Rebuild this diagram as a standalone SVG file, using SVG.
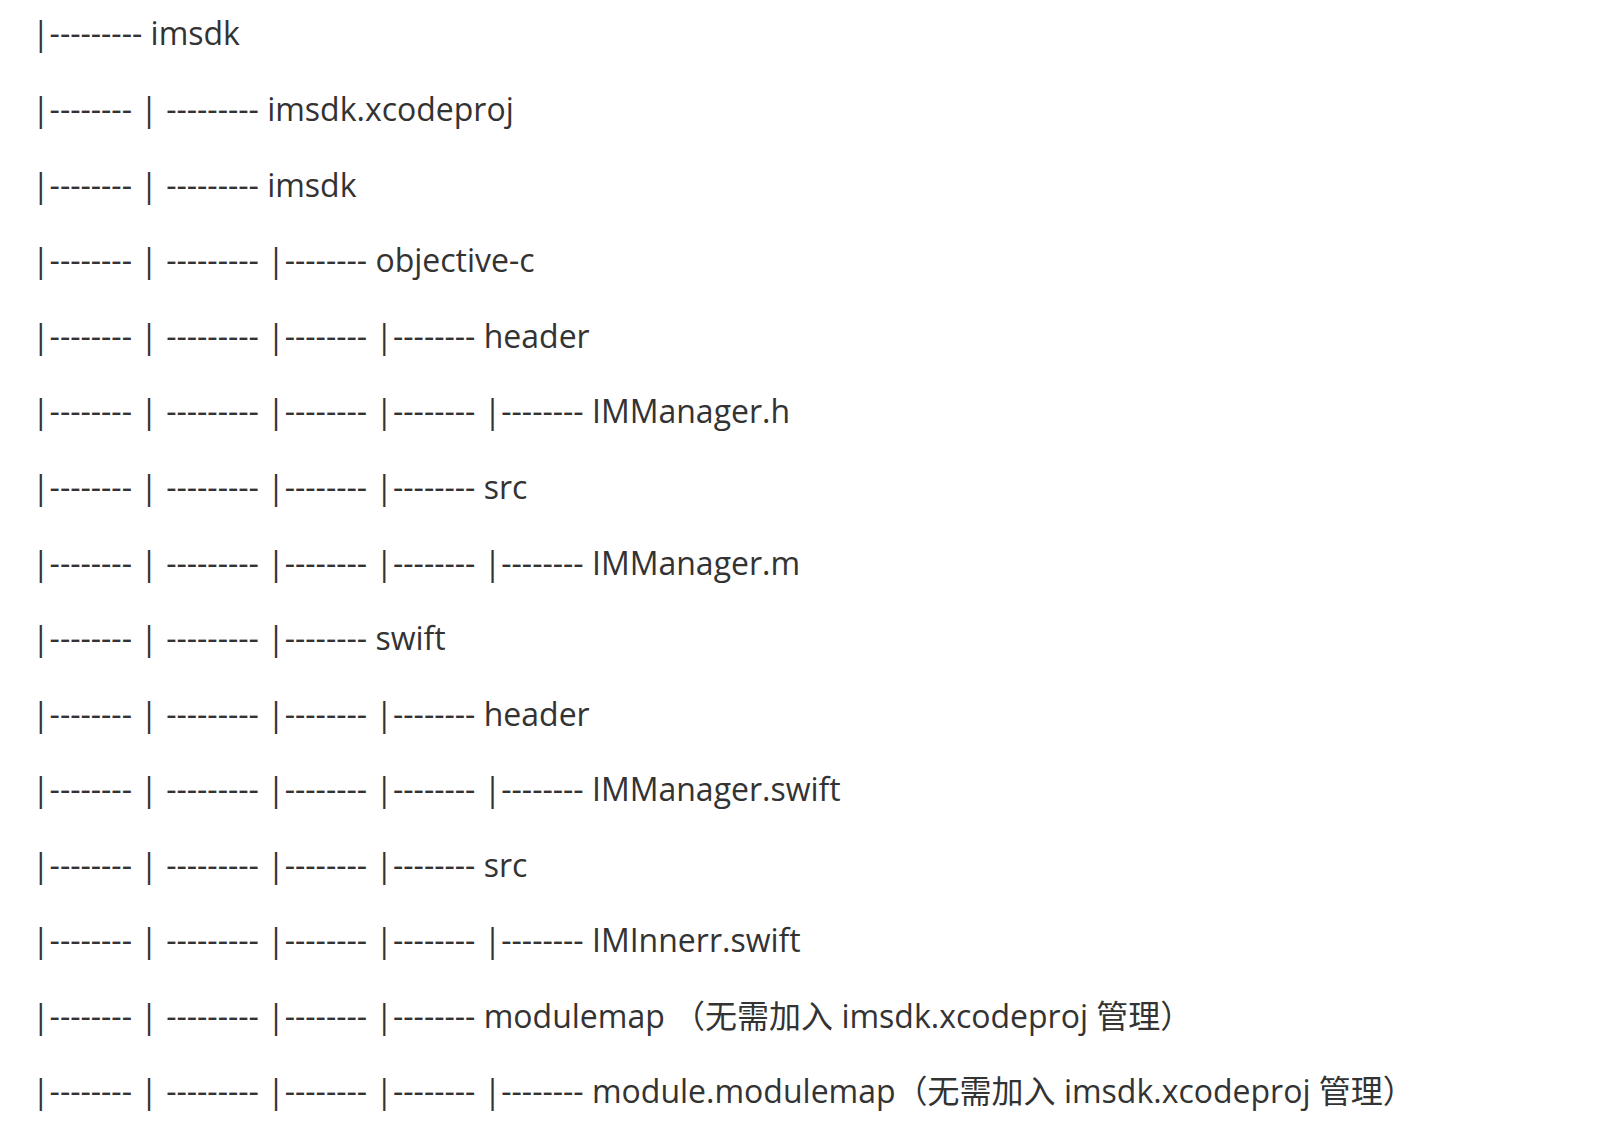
<svg xmlns="http://www.w3.org/2000/svg" width="1608" height="1142" viewBox="0 0 1608 1142">
<style>
text{font-family:"Open Sans","Noto Sans CJK SC",sans-serif;font-size:32px;fill:#333;white-space:pre}
</style>
<rect width="1608" height="1142" fill="#fff"/>
<g id="tree">
<text id="l1" x="32" y="45">|--------- imsdk</text>
<text id="l2" x="32" y="120.5">|-------- | --------- imsdk.xcodeproj</text>
<text id="l3" x="32" y="196.5">|-------- | --------- imsdk</text>
<text id="l4" x="32" y="272">|-------- | --------- |-------- objective-c</text>
<text id="l5" x="32" y="347.5">|-------- | --------- |-------- |-------- header</text>
<text id="l6" x="32" y="423">|-------- | --------- |-------- |-------- |-------- IMManager.h</text>
<text id="l7" x="32" y="498.5">|-------- | --------- |-------- |-------- src</text>
<text id="l8" x="32" y="574.5">|-------- | --------- |-------- |-------- |-------- IMManager.m</text>
<text id="l9" x="32" y="650">|-------- | --------- |-------- swift</text>
<text id="l10" x="32" y="725.5">|-------- | --------- |-------- |-------- header</text>
<text id="l11" x="32" y="801">|-------- | --------- |-------- |-------- |-------- IMManager.swift</text>
<text id="l12" x="32" y="876.5">|-------- | --------- |-------- |-------- src</text>
<text id="l13" x="32" y="952">|-------- | --------- |-------- |-------- |-------- IMInnerr.swift</text>
<text id="l14" x="32" y="1027.5">|-------- | --------- |-------- |-------- modulemap （无需加入 imsdk.xcodeproj 管理）</text>
<text id="l15" x="32" y="1103">|-------- | --------- |-------- |-------- |-------- module.modulemap（无需加入 imsdk.xcodeproj 管理）</text>
</g>
</svg>
